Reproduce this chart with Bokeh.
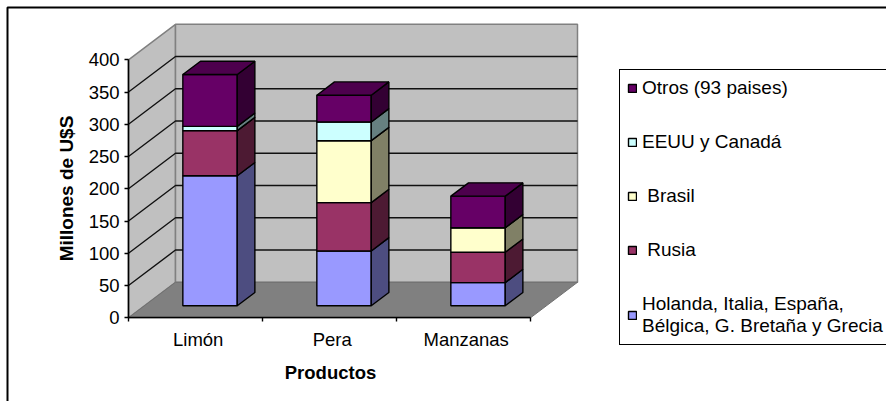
from bokeh.plotting import figure
from bokeh.embed import file_html
from bokeh.resources import INLINE
from bokeh.models import FixedTicker, Legend, LegendItem, Label, BoxAnnotation, Range1d

categories = ["Limón", "Pera", "Manzanas"]
series_names = ["Holanda, Italia, España,\nBélgica, G. Bretaña y Grecia", " Rusia", " Brasil", "EEUU y Canadá", "Otros (93 paises)"]
holanda = [201.6, 85, 36]
rusia = [70, 75, 47]
brasil = [0, 96, 38]
eeuu = [6.6, 29, 0]
otros = [80.4, 41.5, 49]
series = [holanda, rusia, brasil, eeuu, otros]
front_colors = ["#9999FF", "#993366", "#FFFFCC", "#CCFFFF", "#660066"]
side_colors = ["#4D4D80", "#4D1A33", "#808066", "#668080", "#330033"]
top_color = "#4D004D"
y_ticks = [0, 50, 100, 150, 200, 250, 300, 350, 400]

W, H = 886, 401
AX, AY = 128, 317.3   # pixel of the axes corner
PX_X = 134.0
PX_Y = 0.645
DX = 47 / PX_X
DY = 35.5 / PX_Y
D0, D1 = 0.338, 0.713
HALF = 0.203
CENTER = 0.49

p = figure(width=W, height=H, output_backend="svg", toolbar_location=None,
           x_range=Range1d(-AX / PX_X, (W - AX) / PX_X),
           y_range=Range1d(-(H - AY) / PX_Y, AY / PX_Y),
           min_border_left=0, min_border_right=0, min_border_top=0, min_border_bottom=0)
p.styles = {"position": "absolute", "left": "0px", "top": "0px"}
p.grid.visible = False
p.outline_line_color = None
p.background_fill_color = "white"

# walls and floor
y400, y0 = y_ticks[-1], y_ticks[0]
wx = [[0, DX, DX, 0], [DX, 3 + DX, 3 + DX, DX]]
wy = [[y0, y0 + DY, y400 + DY, y400], [y0 + DY, y0 + DY, y400 + DY, y400 + DY]]
p.patches(wx, wy, fill_color="#C0C0C0", line_color="#808080", line_width=1.5)
p.patch([0, DX, 3 + DX, 3], [y0, y0 + DY, y0 + DY, y0], fill_color="#808080", line_color="#707070", line_width=1)
gx, gy = [], []
for t in y_ticks[1:-1]:
    gx.append([0, DX, 3 + DX])
    gy.append([t, t + DY, t + DY])
p.multi_line(gx, gy, line_color="#111111", line_width=1.4)

# bars
items = []
for si, vals in enumerate(series):
    base = [sum(s[i] for s in series[:si]) for i in range(3)]
    lefts = [i + CENTER - HALF + D0 * DX for i in range(3)]
    rights = [i + CENTER + HALF + D0 * DX for i in range(3)]
    bot = [b + D0 * DY for b in base]
    top = [b + v + D0 * DY for b, v in zip(base, vals)]
    r = p.quad(left=lefts, right=rights, bottom=bot, top=top,
               fill_color=front_colors[si], line_color="black", line_width=1.4)
    sx = [[i + CENTER + HALF + D0 * DX, i + CENTER + HALF + D1 * DX, i + CENTER + HALF + D1 * DX, i + CENTER + HALF + D0 * DX] for i in range(3)]
    sy = [[base[i] + D0 * DY, base[i] + D1 * DY, base[i] + vals[i] + D1 * DY, base[i] + vals[i] + D0 * DY] for i in range(3)]
    p.patches(sx, sy, fill_color=side_colors[si], line_color="black", line_width=1.4)
    items.append(LegendItem(label=series_names[si], renderers=[r]))

totals = [sum(s[i] for s in series) for i in range(3)]
tx = [[i + CENTER - HALF + D0 * DX, i + CENTER + HALF + D0 * DX, i + CENTER + HALF + D1 * DX, i + CENTER - HALF + D1 * DX] for i in range(3)]
ty = [[totals[i] + D0 * DY, totals[i] + D0 * DY, totals[i] + D1 * DY, totals[i] + D1 * DY] for i in range(3)]
p.patches(tx, ty, fill_color=top_color, line_color="black", line_width=1.4)

# axes
FONT = "Liberation Sans"
xa = p.xaxis[0]
tick_pos = [i + 0.52 for i in range(3)]
xa.fixed_location = 0
xa.ticker = FixedTicker(ticks=tick_pos, minor_ticks=[0, 1, 2, 3])
xa.major_label_overrides = {t: c for t, c in zip(tick_pos, categories)}
xa.bounds = (0, 3)
xa.major_tick_line_color = None
xa.minor_tick_out = 4
xa.minor_tick_in = 0
xa.minor_tick_line_color = "black"
xa.minor_tick_line_width = 1.4
xa.axis_line_color = "black"
xa.axis_line_width = 1.6
xa.major_label_text_font = FONT
xa.major_label_text_font_size = "18.5px"
xa.major_label_text_color = "black"
xa.major_label_standoff = 5

ya = p.yaxis[0]
ya.fixed_location = 0
ya.ticker = FixedTicker(ticks=y_ticks)
ya.bounds = (0, 400)
ya.major_tick_out = 4
ya.major_tick_in = 0
ya.major_tick_line_color = "black"
ya.major_tick_line_width = 1.4
ya.minor_tick_line_color = None
ya.axis_line_color = "black"
ya.axis_line_width = 1.6
ya.major_label_text_font = FONT
ya.major_label_text_font_size = "18.5px"
ya.major_label_text_color = "black"
ya.major_label_standoff = 5
ya.axis_label = "Millones de U$S"
ya.axis_label_text_font = FONT
ya.axis_label_text_font_size = "19px"
ya.axis_label_text_font_style = "bold"
ya.axis_label_text_color = "black"
ya.axis_label_standoff = 9

p.add_layout(Label(x=330, y=H - 372, x_units="screen", y_units="screen", text="Productos",
                   text_font=FONT, text_font_size="18.5px", text_font_style="bold",
                   text_align="center", text_baseline="middle", text_color="black"))
p.add_layout(BoxAnnotation(left=7, top=H - 7, right=W + 50, bottom=-50, left_units="screen", right_units="screen",
                           top_units="screen", bottom_units="screen", fill_alpha=0,
                           line_color="black", line_alpha=1, line_width=2))

leg = Legend(items=items[::-1], location=(619, H - 345), orientation="vertical",
             glyph_width=10, glyph_height=10, label_standoff=5, padding=7, spacing=32, margin=0,
             label_text_font=FONT, label_text_font_size="19px", label_text_color="black",
             border_line_color="black", border_line_alpha=1, border_line_width=1.5, background_fill_alpha=1,
             click_policy="none")
p.add_layout(leg)

open("out.html", "w").write(file_html(p, INLINE))
